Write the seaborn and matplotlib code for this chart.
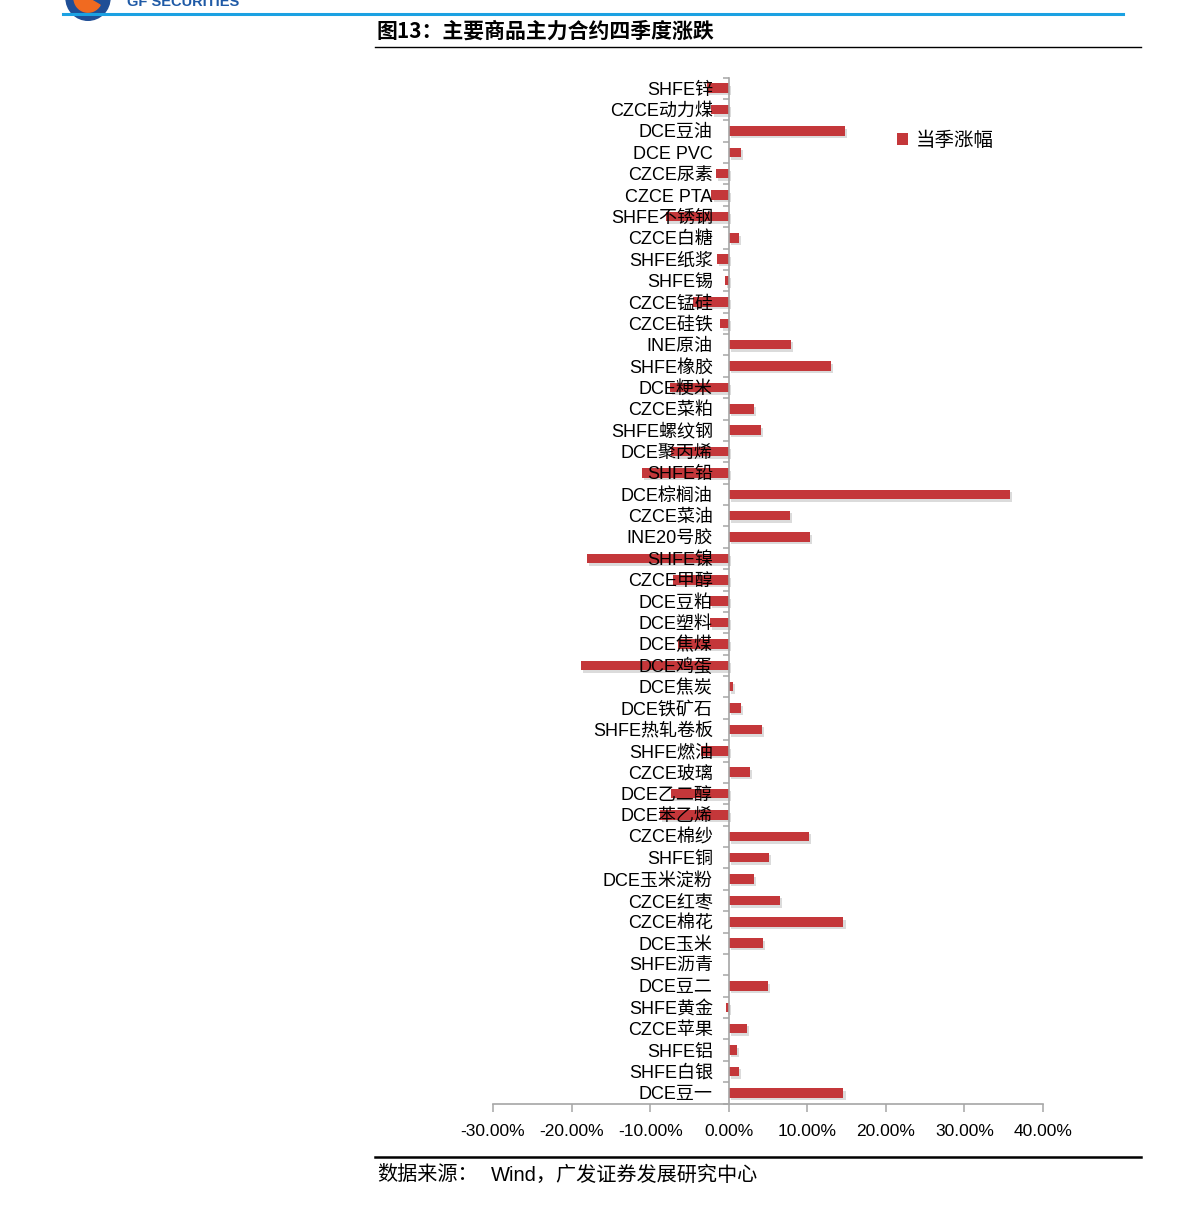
import numpy as np
import pandas as pd
import matplotlib
matplotlib.use('Agg')
import matplotlib.pyplot as plt
import matplotlib.patheffects as pe
from matplotlib.patches import Patch, Circle, Wedge
from matplotlib.ticker import PercentFormatter, FixedLocator
import seaborn as sns

# 品种（从上到下）
names = ['SHFE锌', 'CZCE动力煤', 'DCE豆油', 'DCE PVC', 'CZCE尿素', 'CZCE PTA',
         'SHFE不锈钢', 'CZCE白糖', 'SHFE纸浆', 'SHFE锡', 'CZCE锰硅', 'CZCE硅铁',
         'INE原油', 'SHFE橡胶', 'DCE粳米', 'CZCE菜粕', 'SHFE螺纹钢', 'DCE聚丙烯',
         'SHFE铅', 'DCE棕榈油', 'CZCE菜油', 'INE20号胶', 'SHFE镍', 'CZCE甲醇',
         'DCE豆粕', 'DCE塑料', 'DCE焦煤', 'DCE鸡蛋', 'DCE焦炭', 'DCE铁矿石',
         'SHFE热轧卷板', 'SHFE燃油', 'CZCE玻璃', 'DCE乙二醇', 'DCE苯乙烯', 'CZCE棉纱',
         'SHFE铜', 'DCE玉米淀粉', 'CZCE红枣', 'CZCE棉花', 'DCE玉米', 'SHFE沥青',
         'DCE豆二', 'SHFE黄金', 'CZCE苹果', 'SHFE铝', 'SHFE白银', 'DCE豆一']

# 当季涨幅 (%)
change = [-2.8, -2.2, 14.85, 1.6, -1.65, -2.2,
          -8.0, 1.3, -1.5, -0.5, -4.5, -1.05,
          7.9, 13.0, -7.5, 3.2, 4.1, -7.3,
          -11.1, 35.75, 7.75, 10.3, -18.1, -7.1,
          -2.4, -2.4, -6.45, -18.8, 0.5, 1.5,
          4.2, -3.5, 2.65, -7.3, -8.8, 10.2,
          5.1, 3.2, 6.5, 14.6, 4.3, 0.0,
          5.0, -0.4, 2.3, 1.1, 1.3, 14.6]

xticks = [-30, -20, -10, 0, 10, 20, 30, 40]

df = pd.DataFrame({'name': names, 'change': change})

plt.rcParams['axes.unicode_minus'] = False
font_mix = ['Liberation Sans', 'Noto Sans CJK SC']
cjk = ['Noto Sans CJK SC', 'DejaVu Sans']

W, H = 1191, 1207
fig = plt.figure(figsize=(W / 100, H / 100), dpi=100)
ax = fig.add_axes([493 / W, 1 - 1103.5 / H, 550 / W, 1026 / H])

bar_red = '#C4373A'
sns.barplot(data=df, x='change', y='name', orient='h', color=bar_red,
            width=0.45, saturation=1, ax=ax)

# 柱子阴影
for p in ax.patches:
    p.set_path_effects([pe.SimplePatchShadow(offset=(1.5, -1.8), shadow_rgbFace='#888888', alpha=0.3),
                        pe.Normal()])
    p.set_edgecolor('none')

ax.set_xlim(-30, 40)
ax.set_ylim(len(names) - 0.5, -0.5)
ax.set_axisbelow(False)

for s in ['top', 'right']:
    ax.spines[s].set_visible(False)
ax.spines['left'].set_position(('data', 0))
ax.spines['left'].set_color('#A6A6A6')
ax.spines['bottom'].set_color('#A6A6A6')
ax.spines['left'].set_linewidth(1.2)
ax.spines['bottom'].set_linewidth(1.2)

# x 轴
ax.set_xticks(xticks)
ax.xaxis.set_major_formatter(PercentFormatter(xmax=100, decimals=2))
ax.tick_params(axis='x', direction='out', length=6, width=1.1, color='#A6A6A6', pad=9)
for t in ax.get_xticklabels():
    t.set_fontfamily(font_mix)
    t.set_fontsize(12.5)

# y 轴：标签在类别中心，小刻度在类别边界
ax.tick_params(axis='y', which='major', length=0, pad=11.5)
ax.yaxis.set_minor_locator(FixedLocator(np.arange(-0.5, len(names), 1.0)))
ax.tick_params(axis='y', which='minor', direction='out', length=4, width=1.1, color='#A6A6A6')
for t in ax.get_yticklabels():
    t.set_fontfamily(font_mix)
    t.set_fontsize(13)
    t.set_color('black')

ax.set_xlabel('')
ax.set_ylabel('')

# 图例
leg = ax.legend(handles=[Patch(facecolor=bar_red, edgecolor='none', label='当季涨幅')],
                loc='center left', bbox_to_anchor=(0.703, 0.939), frameon=False,
                handlelength=0.55, handleheight=0.55, handletextpad=0.4,
                prop={'family': cjk, 'size': 14})

# 标题与分隔线
fig.text(377 / W, 1 - 31 / H, '图13：主要商品主力合约四季度涨跌', fontsize=15, fontweight='bold',
         family=cjk, va='center', ha='left')
fig.add_artist(plt.Line2D([375 / W, 1141 / W], [1 - 47 / H, 1 - 47 / H], color='black', lw=1.0))
fig.add_artist(plt.Line2D([375 / W, 1141 / W], [1 - 1157 / H, 1 - 1157 / H], color='black', lw=1.8))
fig.text(377 / W, 1 - 1175 / H, '数据来源：', fontsize=14.5,
         family=cjk, va='center', ha='left')
fig.text(491 / W, 1 - 1175 / H, 'Wind，广发证券发展研究中心', fontsize=14.5,
         family=font_mix, va='center', ha='left')

# 页眉（被裁掉的部分）
fig.add_artist(plt.Line2D([63 / W, 1123 / W], [1 - 14 / H, 1 - 14 / H], color='#1BA1E2', lw=2.2))
fig.text(127 / W, 1 - 9 / H, 'GF SECURITIES', fontsize=10.5, fontweight='bold', color='#1F5AA6',
         family='Liberation Sans', va='bottom', ha='left')
fig.add_artist(Circle((88 / W, 1 + 2 / H), 22 / W, transform=fig.transFigure, color='#1F4E96'))
fig.add_artist(Wedge((88 / W, 1 + 2 / H), 14 / W, 180, 330, transform=fig.transFigure, color='#F06A20'))

fig.savefig('out.png', dpi=100, facecolor='white')
